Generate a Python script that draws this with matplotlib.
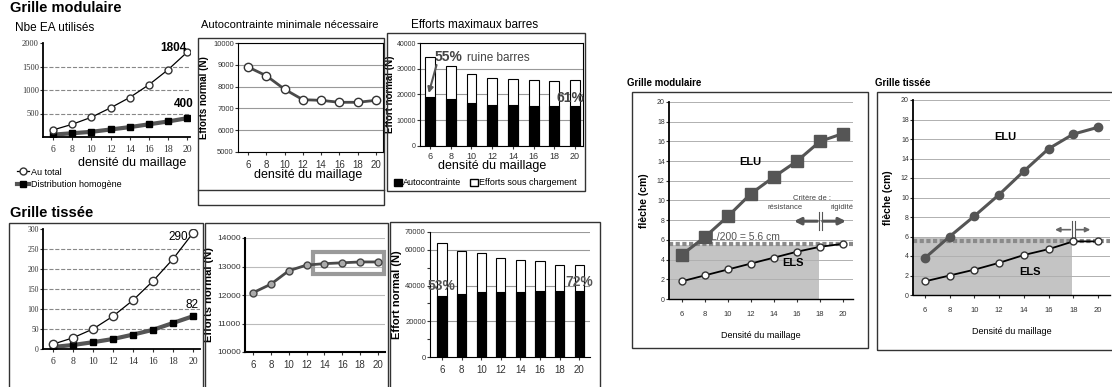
import matplotlib
matplotlib.use("Agg")
import matplotlib.pyplot as plt
from matplotlib.patches import Rectangle, Patch
from matplotlib.lines import Line2D

# densité du maillage
densite = [6, 8, 10, 12, 14, 16, 18, 20]

# Grille modulaire
mod_total = [150, 270, 420, 620, 840, 1110, 1430, 1804]
mod_homog = [50, 80, 110, 160, 210, 270, 330, 400]
mod_auto = [8900, 8500, 7880, 7400, 7370, 7280, 7280, 7370]
mod_bar_total = [34500, 31000, 28000, 26500, 26000, 25800, 25300, 25600]
mod_bar_auto = [19000, 18200, 16800, 16000, 15800, 15500, 15500, 15700]
mod_elu = [4.5, 6.3, 8.4, 10.7, 12.4, 14.0, 16.0, 16.8]
mod_els = [1.8, 2.4, 3.0, 3.6, 4.2, 4.8, 5.3, 5.6]

# Grille tissée
tis_total = [12, 28, 50, 82, 122, 170, 225, 290]
tis_homog = [5, 10, 17, 25, 36, 48, 65, 82]
tis_auto = [12080, 12380, 12850, 13050, 13100, 13130, 13160, 13160]
tis_bar_total = [64000, 59500, 58000, 55500, 54500, 53500, 51800, 51500]
tis_bar_auto = [34000, 35500, 36500, 36500, 36500, 37000, 37000, 37000]
tis_elu = [3.8, 6.0, 8.1, 10.3, 12.7, 15.0, 16.5, 17.2]
tis_els = [1.4, 2.0, 2.6, 3.3, 4.1, 4.7, 5.5, 5.5]

W, H = 1112, 387
plt.rcParams['font.family'] = ['Liberation Sans', 'DejaVu Sans']
fig = plt.figure(figsize=(W / 100, H / 100), dpi=100)
fig.patch.set_facecolor('white')

DARK = '#4a4a4a'
GRID = '#b0b0b0'


def px_axes(x0, y0, x1, y1):
    return fig.add_axes([x0 / W, 1 - y1 / H, (x1 - x0) / W, (y1 - y0) / H])


def frame(x0, y0, x1, y1, lw=1.0):
    fig.add_artist(Rectangle((x0 / W, 1 - y1 / H), (x1 - x0) / W, (y1 - y0) / H,
                             transform=fig.transFigure, fill=False, ec='#333333', lw=lw))


def ftext(x, y, s, **kw):
    fig.text(x / W, 1 - y / H, s, **kw)


def style(ax, serif=False, xs=7, ys=6, xpad=4):
    ax.set_xticks(densite)
    ax.tick_params(axis='x', labelsize=xs, colors='#333333', length=2, pad=xpad)
    ax.tick_params(axis='y', labelsize=ys, colors='#333333', length=2, pad=1)
    if serif:
        for lab in ax.get_xticklabels() + ax.get_yticklabels():
            lab.set_family('Liberation Serif')
    ax.set_axisbelow(True)


# ---------- titres ----------
ftext(10, 8, 'Grille modulaire', fontsize=10.5, weight='bold', va='center')
ftext(15, 28, 'Nbe EA utilisés', fontsize=8.5, va='center')
ftext(10, 213, 'Grille tissée', fontsize=10.5, weight='bold', va='center')
ftext(290, 25, 'Autocontrainte minimale nécessaire', fontsize=8, ha='center', va='center')
ftext(475, 25, 'Efforts maximaux barres', fontsize=8.5, ha='center', va='center')
ftext(627, 83, 'Grille modulaire', fontsize=7, weight='bold', va='center')
ftext(875, 83, 'Grille tissée', fontsize=7, weight='bold', va='center')

# ---------- cadres ----------
frame(198, 38, 384, 205)
fig.add_artist(Line2D([198 / W, 384 / W], [1 - 190 / H, 1 - 190 / H], transform=fig.transFigure,
                      color='#333333', lw=1))
frame(387, 33, 585, 191)
frame(9, 223, 203, 392)
frame(205, 223, 388, 392)
frame(390, 222, 600, 392)
frame(632, 92, 868, 348)
frame(877, 92, 1115, 350)

# ---------- panneau 1 : Nbe EA, modulaire ----------
ax = px_axes(43, 43, 190, 137)
ax.plot(densite, mod_homog, color='#555555', lw=3, marker='s', ms=4.5, mfc='black', mec='black',
        label='Distribution homogène')
ax.plot(densite, mod_total, color='black', lw=0.9, marker='o', ms=5, mfc='white', mec='#333333',
        label='Au total')
ax.set_xlim(4.95, 20.3)
ax.set_ylim(0, 2000)
ax.set_yticks([500, 1000, 1500, 2000])
for v in [500, 1000, 1500]:
    ax.axhline(v, color='#888888', lw=0.8, ls='--', zorder=0)
for s in ['top', 'right']:
    ax.spines[s].set_visible(False)
ax.spines['left'].set_linewidth(1.3)
ax.spines['bottom'].set_linewidth(1.3)
style(ax, serif=True)
ax.text(18.6, 1894, '1804', fontsize=8.5, weight='bold', ha='center', va='center')
ax.text(19.6, 702, '400', fontsize=8.5, weight='bold', ha='center', va='center')
ftext(132, 163, 'densité du maillage', fontsize=9, ha='center', va='center')
h, l = ax.get_legend_handles_labels()
ax.legend([h[1], h[0]], [l[1], l[0]], loc='upper left', bbox_to_anchor=(12 / W, 1 - 163 / H),
          bbox_transform=fig.transFigure, frameon=False, fontsize=6.5, handlelength=1.4,
          labelspacing=0.4, borderpad=0, handletextpad=0.2)

# ---------- panneau 2 : autocontrainte, modulaire ----------
ax = px_axes(238, 43, 383, 152)
ax.plot(densite, mod_auto, color=DARK, lw=2, marker='o', ms=6, mfc='white', mec='#333333')
ax.set_xlim(4.91, 20.77)
ax.set_ylim(5000, 10000)
ax.set_yticks(range(5000, 10001, 1000))
ax.grid(axis='y', color='#999999', lw=0.8)
style(ax, ys=5.5)
ax.set_ylabel('Efforts normal (N)', fontsize=7, weight='bold', labelpad=3)
ftext(308, 175, 'densité du maillage', fontsize=9, ha='center', va='center')

# ---------- panneau 3 : efforts max, modulaire ----------
ax = px_axes(420, 43, 583, 146)
ax.bar(densite, mod_bar_total, width=0.95, color='white', edgecolor='black', lw=0.8)
ax.bar(densite, mod_bar_auto, width=0.95, color='black', edgecolor='black', lw=0.8)
ax.set_xlim(5.03, 20.77)
ax.set_ylim(0, 40000)
ax.set_yticks(range(0, 40001, 10000))
ax.grid(axis='y', color='#999999', lw=0.8)
style(ax, xs=6.5, ys=5, xpad=2)
ax.set_ylabel('Effort normal (N)', fontsize=7, weight='bold', labelpad=1)
ax.annotate('', xy=(5.8, 19500), xytext=(6.7, 32500),
            arrowprops=dict(arrowstyle='-|>', color='#555555', lw=1.5, mutation_scale=8))
ax.text(6.45, 34500, '55%', fontsize=10, weight='bold', color='#444444', va='center')
ax.text(9.6, 34200, 'ruine barres', fontsize=8.5, color='#444444', va='center')
ax.text(19.6, 18600, '61%', fontsize=10, weight='bold', color='#444444', ha='center', va='center')
ftext(492, 166, 'densité du maillage', fontsize=9, ha='center', va='center')
ax.legend([Patch(fc='black', ec='black'), Patch(fc='white', ec='black')],
          ['Autocontrainte', 'Efforts sous chargement'], loc='center left',
          bbox_to_anchor=(389 / W, 1 - 183 / H), bbox_transform=fig.transFigure,
          ncol=2, frameon=False, fontsize=6.5, handlelength=0.9, handleheight=0.9,
          handletextpad=0.1, columnspacing=1.0, borderpad=0)

# ---------- panneau 4 : Nbe EA, tissée ----------
ax = px_axes(43, 229, 200, 349)
ax.plot(densite, tis_homog, color='#555555', lw=3, marker='s', ms=4.5, mfc='black', mec='black')
ax.plot(densite, tis_total, color='black', lw=0.9, marker='o', ms=6, mfc='white', mec='#333333')
ax.set_xlim(5.0, 20.7)
ax.set_ylim(0, 300)
ax.set_yticks(range(0, 301, 50))
for v in range(50, 300, 50):
    ax.axhline(v, color='#888888', lw=0.8, ls='--', zorder=0)
for s in ['top', 'right']:
    ax.spines[s].set_visible(False)
ax.spines['left'].set_linewidth(1.3)
ax.spines['bottom'].set_linewidth(1.3)
style(ax, serif=True, ys=5.5)
ax.text(18.5, 280, '290', fontsize=8.5, ha='center', va='center')
ax.text(19.9, 110, '82', fontsize=8.5, ha='center', va='center')

# ---------- panneau 5 : autocontrainte, tissée ----------
ax = px_axes(245, 238, 385, 352)
ax.plot(densite, tis_auto, color=DARK, lw=2, marker='o', ms=5, mfc='#aaaaaa', mec='#444444')
ax.set_xlim(5.1, 20.78)
ax.set_ylim(10000, 14000)
ax.set_yticks(range(10000, 14001, 1000))
ax.grid(axis='y', color='#bbbbbb', lw=0.8)
for s in ['top', 'right']:
    ax.spines[s].set_visible(False)
ax.spines['left'].set_linewidth(1.5)
ax.spines['bottom'].set_linewidth(1.5)
style(ax)
ax.add_patch(Rectangle((12.72, 12737), 8.0, 772, fill=False, ec='#9a9a9a', lw=3, clip_on=False))
ax.set_ylabel('Efforts normal (N)', fontsize=8, weight='bold', labelpad=2)

# ---------- panneau 6 : efforts max, tissée ----------
ax = px_axes(430, 232, 590, 357)
ax.bar(densite, tis_bar_total, width=0.95, color='white', edgecolor='black', lw=0.8)
ax.bar(densite, tis_bar_auto, width=0.95, color='black', edgecolor='black', lw=0.8)
ax.set_xlim(4.77, 21.1)
ax.set_ylim(0, 70000)
ax.set_yticks(range(0, 70001, 10000))
ax.set_yticklabels(['0', '', '20000', '', '40000', '', '60000', '70000'])
for v in [20000, 40000, 60000, 70000]:
    ax.axhline(v, color='#999999', lw=0.8, zorder=0)
for s in ['top', 'right']:
    ax.spines[s].set_visible(False)
style(ax, ys=5.5)
ax.set_ylabel('Effort normal (N)', fontsize=8, weight='bold', labelpad=2)
ax.text(5.9, 39800, '53%', fontsize=10, weight='bold', color='#555555', ha='center', va='center')
ax.text(20.0, 42000, '72%', fontsize=10, weight='bold', color='#555555', ha='center', va='center')


# ---------- panneaux 7 et 8 : flèche ----------
def fleche(ax, elu, els, elu_marker, xlim, shade_x, shade_y):
    ax.add_patch(Rectangle((xlim[0], 0), shade_x - xlim[0], shade_y, color='#c4c4c4', lw=0, zorder=0.5))
    ax.axhline(5.6 if elu_marker == 's' else 5.5, color='#8a8a8a', lw=3, ls=(0, (1, 0.6)), zorder=1)
    ax.plot(densite, elu, color='#555555', lw=2.2, marker=elu_marker,
            ms=8 if elu_marker == 's' else 6, mfc='#555555', mec='#555555', zorder=3)
    ax.plot(densite, els, color='black', lw=1.3, marker='o', ms=5, mfc='white', mec='#333333', zorder=3)
    ax.set_xlim(*xlim)
    ax.set_ylim(0, 20)
    ax.set_yticks(range(0, 21, 2))
    ax.grid(axis='y', color=GRID, lw=0.7)
    for s in ['top', 'right']:
        ax.spines[s].set_visible(False)
    ax.spines['left'].set_linewidth(1.3)
    ax.spines['bottom'].set_linewidth(1.0)
    style(ax, xs=5.5, ys=5)
    ax.tick_params(axis='x', pad=7)
    ax.set_ylabel('flèche (cm)', fontsize=7.5, weight='bold', labelpad=6)
    ax.set_xlabel('Densité du maillage', fontsize=6.5, labelpad=9)


ax = px_axes(669, 102, 853, 299)
fleche(ax, mod_elu, mod_els, 's', (4.87, 20.87), 17.9, 5.5)
ax.text(11.9, 13.9, 'ELU', fontsize=8, weight='bold', ha='center', va='center')
ax.text(15.65, 3.65, 'ELS', fontsize=8, weight='bold', ha='center', va='center')
ax.text(11.5, 6.3, 'L/200 = 5.6 cm', fontsize=7.5, color='#555555', ha='center', va='center')
ax.text(17.3, 10.25, 'Critère de :', fontsize=5.5, color='#444444', ha='center', va='center')
ax.text(15.0, 9.3, 'résistance', fontsize=5.5, color='#444444', ha='center', va='center')
ax.text(19.9, 9.3, 'rigidité', fontsize=5.5, color='#444444', ha='center', va='center')
ax.annotate('', xy=(15.5, 7.9), xytext=(18.0, 7.9),
            arrowprops=dict(arrowstyle='-|>', color='#555555', lw=2.2, mutation_scale=10))
ax.annotate('', xy=(20.5, 7.9), xytext=(18.0, 7.9),
            arrowprops=dict(arrowstyle='-|>', color='#555555', lw=2.2, mutation_scale=10))
ax.plot([17.9, 17.9], [7.0, 8.8], color='#555555', lw=0.8)
ax.plot([18.15, 18.15], [7.0, 8.8], color='#555555', lw=0.8)

ax = px_axes(913, 100, 1110, 295)
fleche(ax, tis_elu, tis_els, 'o', (5.03, 20.97), 17.9, 5.9)
ax.text(12.5, 16.2, 'ELU', fontsize=8, weight='bold', ha='center', va='center')
ax.text(14.5, 2.4, 'ELS', fontsize=8, weight='bold', ha='center', va='center')
ax.annotate('', xy=(16.3, 6.7), xytext=(18.0, 6.7),
            arrowprops=dict(arrowstyle='-|>', color='#666666', lw=1.2, mutation_scale=7))
ax.annotate('', xy=(19.6, 6.7), xytext=(18.0, 6.7),
            arrowprops=dict(arrowstyle='-|>', color='#666666', lw=1.2, mutation_scale=7))
ax.plot([17.9, 17.9], [5.9, 7.6], color='#555555', lw=0.8)
ax.plot([18.1, 18.1], [5.9, 7.6], color='#555555', lw=0.8)

fig.savefig('out.png', dpi=100)
